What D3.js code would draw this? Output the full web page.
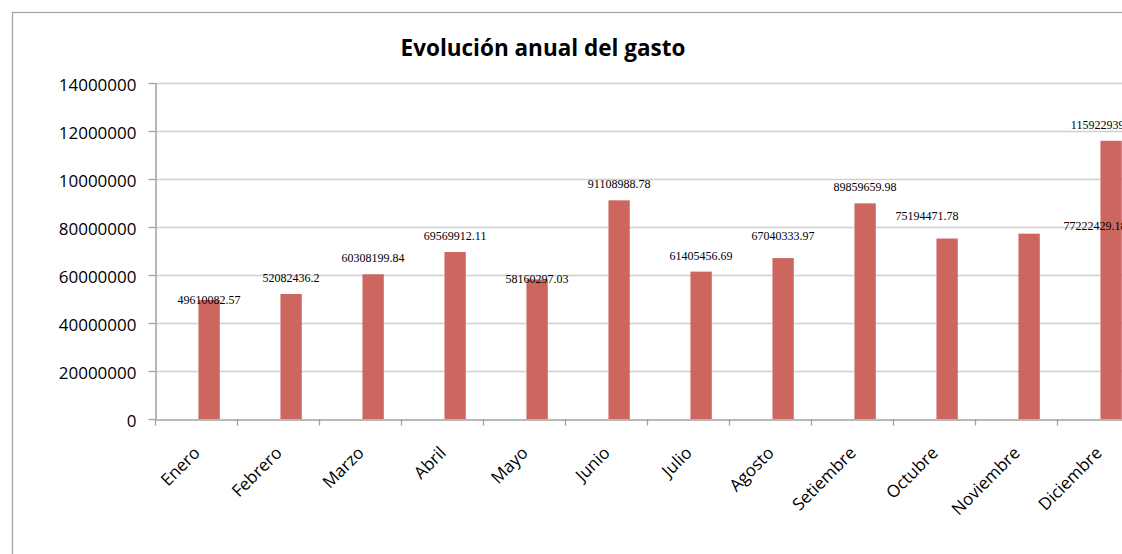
<!DOCTYPE html>
<html>
<head>
<meta charset="utf-8">
<script src="https://cdn.jsdelivr.net/npm/d3@7/dist/d3.min.js"></script>
<style>
  html, body { margin: 0; padding: 0; background: #fff; overflow: hidden; }
  svg { display: block; }
</style>
</head>
<body>
<svg id="chart" width="1122" height="554"></svg>
<script>
// ---- data ----
const title = "Evolución anual del gasto";
const months = ["Enero","Febrero","Marzo","Abril","Mayo","Junio","Julio","Agosto","Setiembre","Octubre","Noviembre","Diciembre"];
const gasto = [49610082.57, 52082436.2, 60308199.84, 69569912.11, 58160297.03, 91108988.78, 61405456.69, 67040333.97, 89859659.98, 75194471.78, 77222429.18, 115922939.42];
const valueLabels = ["49610082.57","52082436.2","60308199.84","69569912.11","58160297.03","91108988.78","61405456.69","67040333.97","89859659.98","75194471.78","77222429.18","115922939.42"];
const yTickValues = [0, 20000000, 40000000, 60000000, 80000000, 100000000, 120000000, 140000000];
const yTickLabels = ["0","20000000","40000000","60000000","80000000","10000000","12000000","14000000"];
// label nudges relative to default placement (as laid out in the original)
const labelNudgeX = [0,0,0,0,0,0,0,0,0,-20,66,-6];
const labelNudgeY = [16,0,0,0,16,0,0,-6,0,-7,8,0];

// ---- layout ----
const W = 1122, H = 554;
const plot = {left: 155, right: 1139, top: 83, bottom: 419};
const svg = d3.select("#chart");

// outer chart border (extends past the viewport on right/bottom)
svg.append("rect")
  .attr("x", 12.5).attr("y", 12.5)
  .attr("width", 1200).attr("height", 700)
  .attr("fill", "none").attr("stroke", "#a6a6a6").attr("stroke-width", 1.3);

const x = d3.scaleBand().domain(months).range([plot.left, plot.right]).padding(0);
const y = d3.scaleLinear().domain([0, 140000000]).range([plot.bottom, plot.top]);

// gridlines
svg.append("g")
  .selectAll("line").data(yTickValues.slice(1)).join("line")
  .attr("x1", plot.left).attr("x2", W)
  .attr("y1", d => Math.round(y(d)) + 0.5).attr("y2", d => Math.round(y(d)) + 0.5)
  .attr("stroke", "#d0d0d0").attr("stroke-width", 1.3);

// title
svg.append("text")
  .attr("x", 543).attr("y", 56)
  .attr("text-anchor", "middle")
  .attr("font-family", "'Open Sans', sans-serif")
  .attr("font-weight", "bold")
  .attr("font-size", 22.5)
  .attr("fill", "#000")
  .text(title);

// bars
const bw = x.bandwidth();
svg.append("g")
  .selectAll("rect").data(months).join("rect")
  .attr("x", (m) => x(m) + bw * 0.53)
  .attr("width", bw * 0.26)
  .attr("y", (m, i) => y(gasto[i]))
  .attr("height", (m, i) => y(0) - y(gasto[i]))
  .attr("fill", "#cc665f");

// y axis
const yAxis = d3.axisLeft(y)
  .tickValues(yTickValues)
  .tickFormat((d, i) => yTickLabels[i])
  .tickSizeInner(7).tickSizeOuter(0).tickPadding(12);
const gy = svg.append("g").attr("transform", `translate(${plot.left + 0.5},0)`).call(yAxis);
gy.select(".domain").attr("stroke", "#a0a0a0").attr("stroke-width", 1.5);
gy.selectAll(".tick line").attr("stroke", "#a0a0a0").attr("stroke-width", 1.3);
gy.selectAll(".tick text")
  .attr("font-family", "'Open Sans', sans-serif")
  .attr("font-size", 17).attr("fill", "#000")
  .attr("dy", "0.42em");

// x axis
const xAxis = d3.axisBottom(x).tickSize(0).tickFormat("");
const gx = svg.append("g").attr("transform", `translate(0,${plot.bottom + 0.5})`).call(xAxis);
gx.select(".domain").attr("stroke", "#a0a0a0").attr("stroke-width", 1.5);
gx.selectAll(".tick").remove();
// category boundary ticks
const bounds = months.map(m => x(m)).concat([x(months[months.length - 1]) + bw]);
gx.selectAll("line.bt").data(bounds).join("line")
  .attr("class", "bt")
  .attr("x1", d => Math.round(d) + 0.5).attr("x2", d => Math.round(d) + 0.5)
  .attr("y1", 0).attr("y2", 6)
  .attr("stroke", "#a0a0a0").attr("stroke-width", 1.3);

// x labels rotated
svg.append("g")
  .selectAll("text").data(months).join("text")
  .attr("transform", m => `translate(${x(m) + bw / 2 + 5},${plot.bottom + 35}) rotate(-45)`)
  .attr("text-anchor", "end")
  .attr("font-family", "'Open Sans', sans-serif")
  .attr("font-size", 17).attr("fill", "#000")
  .text(m => m);

// data labels
svg.append("g")
  .selectAll("text").data(months).join("text")
  .attr("x", (m, i) => x(m) + bw * 0.66 + labelNudgeX[i])
  .attr("y", (m, i) => y(gasto[i]) - 12 + labelNudgeY[i])
  .attr("text-anchor", "middle")
  .attr("font-family", "'Liberation Serif', 'Times New Roman', serif")
  .attr("font-size", 12).attr("fill", "#000")
  .text((m, i) => valueLabels[i]);
</script>
</body>
</html>
